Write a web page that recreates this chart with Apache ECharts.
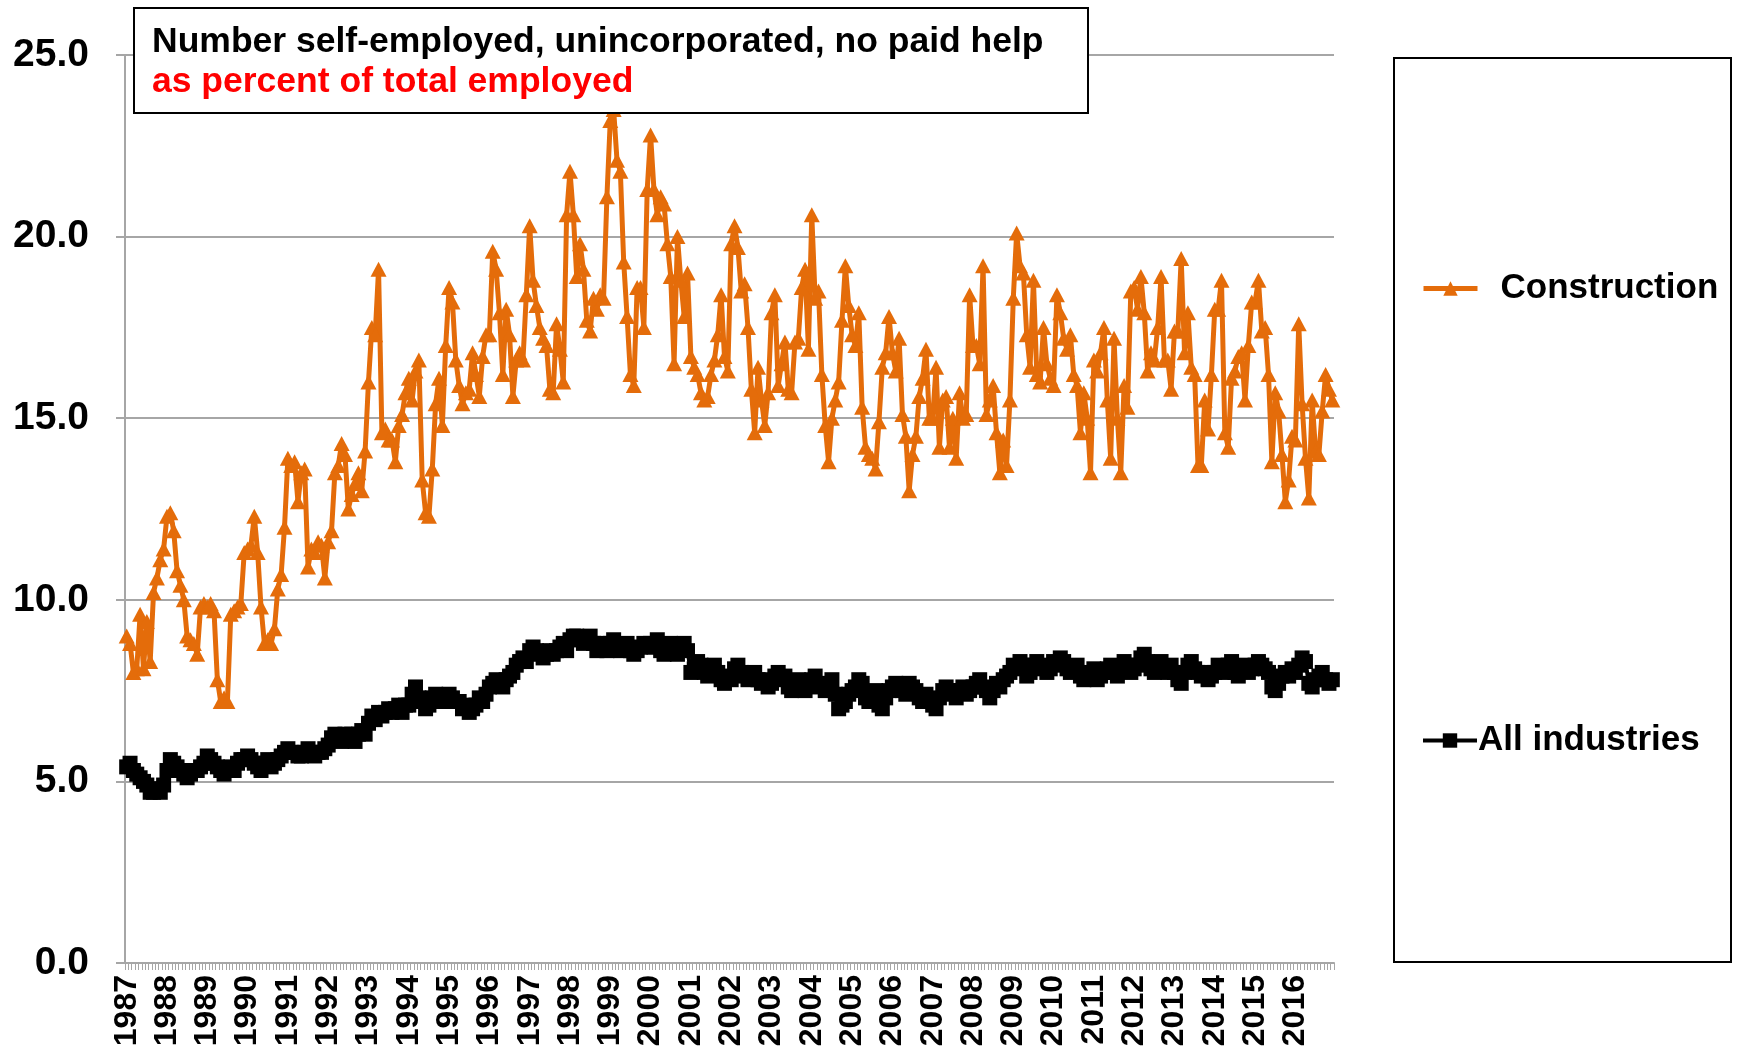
<!DOCTYPE html>
<html>
<head>
<meta charset="utf-8">
<script src="https://cdn.jsdelivr.net/npm/echarts@6/dist/echarts.min.js"></script>
<style>
  html, body { margin: 0; padding: 0; background: #fff; }
  #chart { width: 1737px; height: 1054px; }
</style>
</head>
<body>
<div id="chart"></div>
<script>
// years shown on the x axis (one label per January)
const years = [1987, 1988, 1989, 1990, 1991, 1992, 1993, 1994, 1995, 1996,
  1997, 1998, 1999, 2000, 2001, 2002, 2003, 2004, 2005, 2006,
  2007, 2008, 2009, 2010, 2011, 2012, 2013, 2014, 2015, 2016];

const yTicks = [0, 5, 10, 15, 20, 25];

// monthly values, % of total employed
const construction = [
  9.0, 8.8, 8.0, 8.1, 9.6, 8.1, 9.4, 8.3, 10.2, 10.6, 11.1, 11.4,        // 1987
  12.3, 12.4, 11.9, 10.8, 10.4, 10.0, 9.0, 8.9, 8.8, 8.5, 9.8, 9.9,      // 1988
  9.8, 9.9, 9.7, 7.8, 7.2, 7.3, 7.2, 9.6, 9.7, 9.8, 9.9, 11.3,           // 1989
  11.4, 11.5, 12.3, 11.3, 9.8, 8.8, 8.9, 8.8, 9.2, 10.3, 10.7, 12.0,     // 1990
  13.9, 13.7, 13.8, 12.7, 13.5, 13.6, 10.9, 11.4, 11.3, 11.6, 11.5, 10.6, // 1991
  11.6, 11.9, 13.5, 13.7, 14.3, 14.0, 12.5, 12.9, 13.2, 13.5, 13.0, 14.1, // 1992
  16.0, 17.5, 17.3, 19.1, 14.6, 14.7, 14.4, 14.4, 13.8, 14.8, 15.1, 15.7, // 1993
  16.1, 15.5, 16.3, 16.6, 13.3, 12.4, 12.3, 13.6, 15.4, 16.1, 14.8, 17.0, // 1994
  18.6, 18.2, 16.6, 15.9, 15.4, 15.7, 15.8, 16.8, 16.2, 15.6, 16.7, 17.3, // 1995
  17.3, 19.6, 19.1, 17.9, 16.2, 18.0, 17.3, 15.6, 16.6, 16.8, 16.6, 18.4, // 1996
  20.3, 18.8, 18.1, 17.5, 17.2, 17.0, 15.8, 15.7, 17.6, 16.9, 16.0, 20.6, // 1997
  21.8, 20.6, 18.9, 19.8, 19.1, 17.7, 17.4, 18.3, 18.0, 18.4, 18.3, 21.1, // 1998
  23.2, 23.5, 22.1, 21.8, 19.3, 17.8, 16.2, 15.9, 18.6, 18.6, 17.5, 21.3, // 1999
  22.8, 21.3, 20.6, 21.1, 20.9, 19.8, 18.9, 16.5, 20.0, 18.8, 17.8, 19.0, // 2000
  16.7, 16.4, 16.2, 15.7, 15.5, 15.6, 16.2, 16.6, 17.3, 18.4, 16.7, 16.3, // 2001
  19.8, 20.3, 19.7, 18.5, 18.7, 17.5, 15.8, 14.6, 16.4, 15.5, 14.8, 15.7, // 2002
  17.9, 18.4, 15.9, 16.5, 17.1, 15.8, 15.7, 17.1, 17.2, 18.6, 19.1, 16.9, // 2003
  20.6, 18.3, 18.5, 16.2, 14.8, 13.8, 15.0, 15.5, 16.0, 17.7, 19.2, 18.1, // 2004
  17.3, 17.0, 17.9, 15.3, 14.2, 14.0, 13.9, 13.6, 14.9, 16.4, 16.8, 17.8, // 2005
  16.8, 16.3, 17.2, 15.1, 14.5, 13.0, 14.0, 14.5, 15.6, 16.1, 16.9, 15.0, // 2006
  15.0, 16.4, 14.2, 15.5, 15.6, 14.2, 15.0, 13.9, 15.7, 15.0, 15.1, 18.4, // 2007
  17.0, 17.0, 16.5, 19.2, 15.1, 15.5, 15.9, 14.6, 13.5, 14.4, 13.7, 15.5, // 2008
  18.3, 20.1, 19.2, 19.0, 17.3, 16.4, 18.8, 16.2, 16.0, 17.5, 16.5, 16.1, // 2009
  15.9, 18.4, 17.9, 17.2, 16.9, 17.3, 16.2, 15.9, 14.6, 15.7, 15.0, 13.5, // 2010
  16.6, 16.3, 16.8, 17.5, 15.5, 13.9, 17.2, 15.0, 13.5, 15.9, 15.3, 18.5, // 2011
  18.6, 18.0, 18.9, 17.9, 16.3, 16.8, 16.6, 17.5, 18.9, 16.6, 16.6, 15.8, // 2012
  17.4, 17.4, 19.4, 16.8, 17.9, 16.4, 16.2, 13.7, 13.7, 15.5, 14.7, 16.2, // 2013
  18.0, 18.0, 18.8, 14.6, 14.2, 16.1, 16.3, 16.7, 16.8, 15.5, 17.0, 18.2, // 2014
  18.2, 18.8, 17.4, 17.5, 16.2, 13.8, 15.7, 15.2, 14.0, 12.7, 13.3, 14.5, // 2015
  14.4, 17.6, 15.4, 13.9, 12.8, 15.5, 14.1, 14.0, 15.2, 16.2, 15.8, 15.5  // 2016
];

const allIndustries = [
  5.4, 5.5, 5.3, 5.2, 5.1, 5.0, 4.9, 4.7, 4.7, 4.8, 4.7, 4.9, // 1987
  5.3, 5.6, 5.5, 5.4, 5.3, 5.2, 5.1, 5.2, 5.3, 5.3, 5.4, 5.5, // 1988
  5.7, 5.6, 5.5, 5.4, 5.3, 5.2, 5.3, 5.4, 5.3, 5.5, 5.6, 5.6, // 1989
  5.7, 5.6, 5.5, 5.4, 5.3, 5.5, 5.6, 5.4, 5.5, 5.6, 5.7, 5.8, // 1990
  5.9, 5.8, 5.8, 5.7, 5.7, 5.8, 5.9, 5.8, 5.7, 5.8, 5.8, 5.9, // 1991
  6.0, 6.2, 6.3, 6.2, 6.1, 6.3, 6.2, 6.3, 6.1, 6.3, 6.4, 6.3, // 1992
  6.6, 6.8, 6.7, 6.9, 6.8, 6.9, 7.0, 6.9, 7.0, 7.1, 6.9, 7.1, // 1993
  7.1, 7.4, 7.6, 7.3, 7.2, 7.0, 7.1, 7.3, 7.4, 7.3, 7.2, 7.3, // 1994
  7.4, 7.3, 7.2, 7.2, 7.0, 7.1, 6.9, 7.0, 7.1, 7.3, 7.2, 7.4, // 1995
  7.6, 7.7, 7.8, 7.7, 7.6, 7.8, 7.9, 8.0, 8.2, 8.3, 8.4, 8.3, // 1996
  8.6, 8.7, 8.6, 8.5, 8.4, 8.5, 8.6, 8.5, 8.6, 8.7, 8.8, 8.6, // 1997
  8.9, 9.0, 9.0, 8.9, 8.8, 8.9, 9.0, 8.8, 8.6, 8.7, 8.8, 8.6, // 1998
  8.8, 8.9, 8.7, 8.6, 8.7, 8.8, 8.6, 8.5, 8.6, 8.7, 8.8, 8.7, // 1999
  8.8, 8.7, 8.9, 8.6, 8.5, 8.7, 8.8, 8.6, 8.5, 8.7, 8.8, 8.6, // 2000
  8.0, 8.1, 8.3, 8.2, 8.0, 7.9, 8.1, 8.2, 8.0, 7.8, 7.7, 7.9, // 2001
  7.8, 8.1, 8.2, 8.0, 7.9, 7.8, 7.9, 8.0, 7.8, 7.7, 7.8, 7.6, // 2002
  7.7, 7.9, 8.0, 7.8, 7.9, 7.6, 7.5, 7.7, 7.8, 7.6, 7.5, 7.7, // 2003
  7.8, 7.9, 7.6, 7.7, 7.5, 7.6, 7.8, 7.4, 7.0, 7.1, 7.2, 7.4, // 2004
  7.5, 7.6, 7.8, 7.7, 7.3, 7.2, 7.4, 7.5, 7.1, 7.0, 7.3, 7.5, // 2005
  7.6, 7.7, 7.6, 7.5, 7.4, 7.7, 7.6, 7.5, 7.3, 7.2, 7.4, 7.2, // 2006
  7.1, 7.0, 7.3, 7.5, 7.6, 7.5, 7.4, 7.3, 7.5, 7.6, 7.4, 7.5, // 2007
  7.6, 7.7, 7.8, 7.6, 7.5, 7.3, 7.5, 7.7, 7.6, 7.8, 7.9, 8.0, // 2008
  8.2, 8.1, 8.3, 8.2, 7.9, 8.0, 8.2, 8.3, 8.1, 8.2, 8.0, 8.1, // 2009
  8.3, 8.2, 8.4, 8.3, 8.1, 8.0, 8.1, 8.2, 7.9, 7.8, 7.9, 8.0, // 2010
  8.1, 7.8, 7.9, 8.0, 8.1, 8.2, 8.0, 7.9, 8.1, 8.3, 8.2, 8.0, // 2011
  8.1, 8.2, 8.4, 8.5, 8.3, 8.1, 8.0, 8.2, 8.3, 8.1, 8.0, 8.2, // 2012
  8.0, 7.8, 7.7, 8.0, 8.2, 8.3, 8.1, 8.0, 7.9, 8.0, 7.8, 7.9, // 2013
  8.0, 8.2, 8.1, 8.0, 8.2, 8.3, 8.0, 7.9, 8.1, 8.2, 8.0, 8.1, // 2014
  8.2, 8.3, 8.2, 8.1, 8.0, 7.6, 7.5, 7.7, 7.9, 8.0, 7.9, 8.1, // 2015
  8.0, 8.2, 8.4, 8.3, 7.7, 7.6, 7.8, 7.9, 8.0, 7.8, 7.7, 7.8  // 2016
];

const titleLine1 = "Number self-employed, unincorporated, no paid help";
const titleLine2 = "as percent of total employed";

// one category per month, label only on January
const months = [];
years.forEach((y) => {
  for (let m = 1; m <= 12; m++) {
    months.push(y + "-" + (m < 10 ? "0" + m : m));
  }
});

const FONT = "'Liberation Sans', Arial, sans-serif";
const ORANGE = "#E46C0A";
const GRID_GRAY = "#A6A6A6";

const chart = echarts.init(document.getElementById("chart"));

const option = {
  backgroundColor: "#fff",
  animation: false,
  grid: { left: 125, right: 403, top: 55, bottom: 91, containLabel: false },
  xAxis: {
    type: "category",
    data: months,
    boundaryGap: true,
    axisLine: { lineStyle: { color: GRID_GRAY, width: 2 } },
    axisTick: { show: true, interval: 0, length: 7, lineStyle: { color: GRID_GRAY, width: 1 } },
    axisLabel: {
      interval: 11,
      rotate: 90,
      margin: 12,
      color: "#000",
      fontFamily: FONT,
      fontWeight: "bold",
      fontSize: 32,
      formatter: (v) => v.slice(0, 4),
    },
    splitLine: { show: false },
  },
  yAxis: {
    type: "value",
    min: yTicks[0],
    max: yTicks[yTicks.length - 1],
    interval: 5,
    axisLine: { show: true, lineStyle: { color: GRID_GRAY, width: 2 } },
    axisTick: { show: true, length: 9, lineStyle: { color: GRID_GRAY, width: 2 } },
    axisLabel: {
      margin: 36,
      color: "#000",
      fontFamily: FONT,
      fontWeight: "bold",
      fontSize: 39,
      formatter: (v) => v.toFixed(1),
    },
    splitLine: { show: true, lineStyle: { color: GRID_GRAY, width: 2 } },
  },
  legend: [
    {
      data: ["Construction"],
      left: 1416,
      top: 266,
      itemWidth: 54,
      itemHeight: 18,
      lineStyle: { width: 5 },
      textStyle: { color: "#000", fontFamily: FONT, fontWeight: "bold", fontSize: 35, padding: [0, 0, 0, 18] },
    },
    {
      data: ["All industries"],
      left: 1416,
      top: 718,
      itemWidth: 54,
      itemHeight: 18,
      lineStyle: { width: 4 },
      textStyle: { color: "#000", fontFamily: FONT, fontWeight: "bold", fontSize: 35, padding: [0, 0, 0, -4] },
    },
  ],
  series: [
    {
      name: "All industries",
      type: "line",
      data: allIndustries,
      symbol: "rect",
      symbolSize: 15,
      showAllSymbol: true,
      itemStyle: { color: "#000" },
      lineStyle: { color: "#000", width: 4 },
      z: 2,
    },
    {
      name: "Construction",
      type: "line",
      data: construction,
      symbol: "triangle",
      symbolSize: [16, 15],
      showAllSymbol: true,
      itemStyle: { color: ORANGE },
      lineStyle: { color: ORANGE, width: 5 },
      z: 3,
    },
  ],
  graphic: [
    {
      type: "rect",
      shape: { x: 134, y: 8, width: 954, height: 105 },
      style: { fill: "#fff", stroke: "#000", lineWidth: 2 },
      z: 100,
    },
    {
      type: "text",
      x: 152,
      y: 42,
      style: { text: titleLine1, fill: "#000", font: "bold 35.5px " + FONT, verticalAlign: "middle" },
      z: 101,
    },
    {
      type: "text",
      x: 152,
      y: 82,
      style: { text: titleLine2, fill: "#FF0000", font: "bold 35.5px " + FONT, verticalAlign: "middle" },
      z: 101,
    },
    {
      type: "rect",
      shape: { x: 1394, y: 58, width: 337, height: 904 },
      style: { fill: "none", stroke: "#000", lineWidth: 2 },
      z: 100,
    },
  ],
};

chart.setOption(option);
</script>
</body>
</html>
